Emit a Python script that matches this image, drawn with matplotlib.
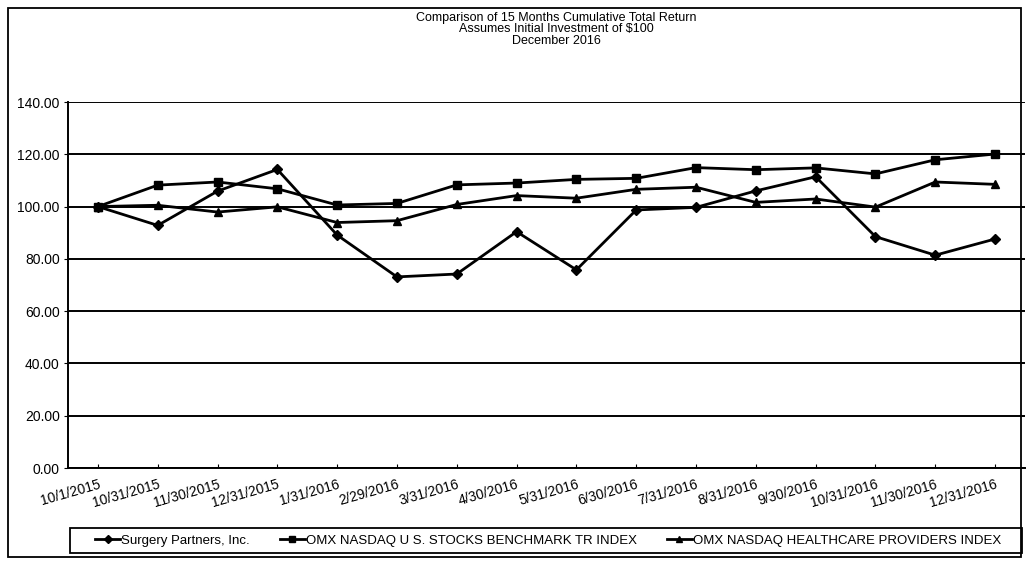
import matplotlib
matplotlib.use('Agg')
import matplotlib.pyplot as plt
from matplotlib.patches import Rectangle

plt.rcParams['font.family'] = ['Liberation Sans', 'DejaVu Sans']

# month-end dates on the category axis
dates = ['10/1/2015', '10/31/2015', '11/30/2015', '12/31/2015', '1/31/2016',
         '2/29/2016', '3/31/2016', '4/30/2016', '5/31/2016', '6/30/2016',
         '7/31/2016', '8/31/2016', '9/30/2016', '10/31/2016', '11/30/2016',
         '12/31/2016']

surgery = [100, 92.8, 105.9, 114.2, 89.1, 73.1, 74.2, 90.4, 75.8, 98.7,
           99.7, 106.0, 111.4, 88.5, 81.4, 87.6]
benchmark = [100, 108.2, 109.4, 106.8, 100.6, 101.2, 108.3, 109.0, 110.4,
             110.8, 114.9, 114.1, 114.8, 112.5, 117.9, 120.1]
healthcare = [100, 100.5, 97.9, 99.9, 93.9, 94.6, 100.8, 104.2, 103.2,
              106.6, 107.4, 101.6, 102.9, 99.8, 109.4, 108.5]

series_names = ['Surgery Partners, Inc.',
                'OMX NASDAQ U S. STOCKS BENCHMARK TR INDEX',
                'OMX NASDAQ HEALTHCARE PROVIDERS INDEX']
title_lines = ['Comparison of 15 Months Cumulative Total Return',
               'Assumes Initial Investment of $100',
               'December 2016']
y_ticks = [0, 20, 40, 60, 80, 100, 120, 140]

W, H = 1027, 572
fig = plt.figure(figsize=(W / 100, H / 100), dpi=100)

# outer chart frame
fig.patches.append(Rectangle((8 / W, 15 / H), 1013 / W, 549 / H,
                             transform=fig.transFigure, fill=False,
                             edgecolor='black', linewidth=1.3))

ax = fig.add_axes([68 / W, (H - 468) / H, (1025 - 68) / W, (468 - 102) / H])

x = list(range(len(dates)))
ax.plot(x, surgery, color='black', lw=2, marker='D', ms=5.5, label=series_names[0])
ax.plot(x, benchmark, color='black', lw=2, marker='s', ms=5.5, label=series_names[1])
ax.plot(x, healthcare, color='black', lw=2, marker='^', ms=6, label=series_names[2])

ax.set_xlim(-0.5, len(dates) - 0.5)
ax.set_ylim(0, 140)
ax.set_yticks(y_ticks)
ax.set_yticklabels(['%.2f' % v for v in y_ticks], fontsize=10)
ax.yaxis.grid(True, color='black', lw=1.4)
ax.set_axisbelow(True)

ax.set_xticks(x)
ax.set_xticklabels(dates, rotation=16, ha='right', rotation_mode='anchor', fontsize=10)
ax.tick_params(axis='x', direction='in', length=3, pad=7)
ax.tick_params(axis='y', direction='out', length=3, pad=3)

for side in ['top', 'right']:
    ax.spines[side].set_visible(False)
ax.spines['left'].set_linewidth(1.4)
ax.spines['bottom'].set_linewidth(1.4)

for i, line in enumerate(title_lines):
    fig.text(556 / W, 1 - (17.5 + 11.5 * i) / H, line,
             ha='center', va='center', fontsize=9)

# legend box drawn separately so the entries can sit inside with the reference padding
fig.patches.append(Rectangle((70 / W, (H - 553) / H), 952 / W, 25 / H,
                             transform=fig.transFigure, fill=False,
                             edgecolor='black', linewidth=1.3))
leg = fig.legend(loc='center', bbox_to_anchor=(548 / W, 1 - 540.5 / H), ncol=3,
                 fontsize=9.5, frameon=False, handlelength=1.9, handletextpad=0.05,
                 columnspacing=2.3, markerscale=0.75, borderpad=0)

fig.savefig('out.png', dpi=100)
